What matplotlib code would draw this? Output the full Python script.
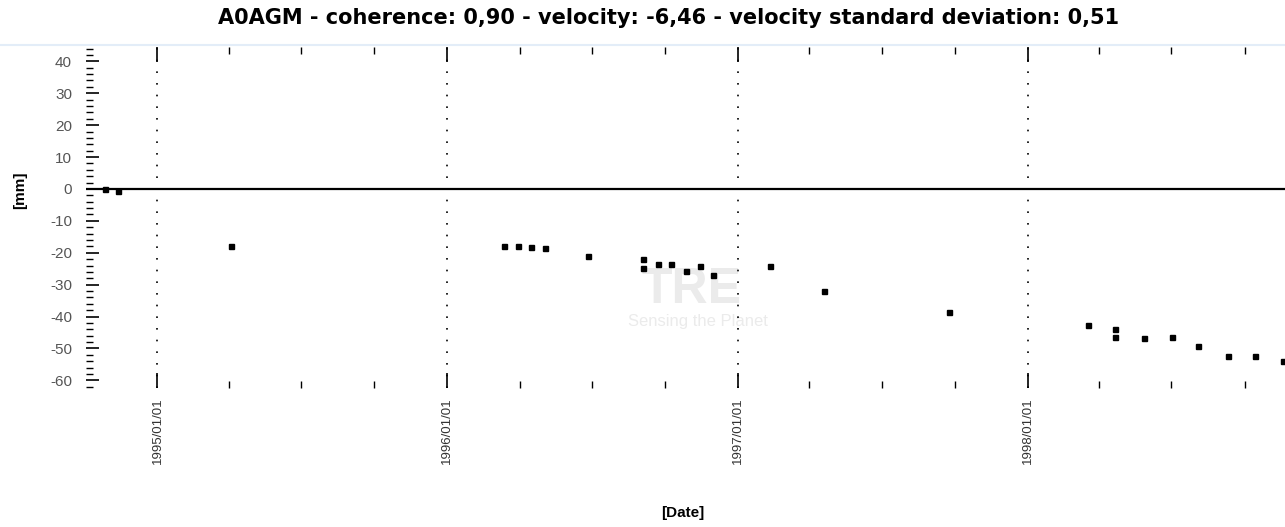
import matplotlib
matplotlib.use("Agg")
import matplotlib.pyplot as plt
import matplotlib.dates as mdates
from matplotlib.ticker import MultipleLocator
from matplotlib.lines import Line2D
import datetime as dt

plt.rcParams["axes.unicode_minus"] = False

dates = ["1994-10-27", "1994-11-12", "1995-04-03", "1996-03-12", "1996-03-30",
         "1996-04-16", "1996-05-03", "1996-06-26", "1996-09-04", "1996-09-04",
         "1996-09-22", "1996-10-09", "1996-10-28", "1996-11-14", "1996-12-01",
         "1997-02-10", "1997-04-20", "1997-09-24", "1998-03-18", "1998-04-21",
         "1998-04-21", "1998-05-27", "1998-07-02", "1998-08-04", "1998-09-10",
         "1998-10-14", "1998-11-18"]
displacement = [0.0, -0.6, -17.9, -17.9, -17.9, -18.2, -18.5, -21.0, -21.9, -24.8,
                -23.5, -23.5, -25.7, -24.1, -27.0, -24.1, -32.0, -38.6, -42.6, -43.9,
                -46.4, -46.7, -46.4, -49.2, -52.4, -52.4, -53.9]
year_ticks = ["1995-01-01", "1996-01-01", "1997-01-01", "1998-01-01"]
title = "A0AGM - coherence: 0,90 - velocity: -6,46 - velocity standard deviation: 0,51"

d = [dt.datetime.strptime(s, "%Y-%m-%d") for s in dates]
yt = [dt.datetime.strptime(s, "%Y-%m-%d") for s in year_ticks]

W, H = 1285, 527
fig = plt.figure(figsize=(W / 100, H / 100), dpi=100)
L, R, T, B = 86, 1285, 47, 388
ax = fig.add_axes([L / W, 1 - B / H, (R - L) / W, (B - T) / H])

ax.set_xlim(dt.datetime(1994, 10, 3), dt.datetime(1998, 11, 21))
ax.set_ylim(-62.4, 44.5)

for s in ax.spines.values():
    s.set_visible(False)

# faint top line
fig.add_artist(Line2D([0, 1], [1 - 45 / H, 1 - 45 / H], transform=fig.transFigure,
                      color="#e3edf8", lw=1.5, zorder=0))

# watermark
ax.text(0.505, 0.287, "TRE", transform=ax.transAxes, ha="center", va="center",
        fontsize=36, fontweight="bold", color="#ebebeb", family="Liberation Sans", zorder=0)
ax.text(0.51, 0.194, "Sensing the Planet", transform=ax.transAxes, ha="center", va="center",
        fontsize=12, color="#ebebeb", family="Liberation Sans", zorder=0)

ax.axhline(0, color="black", lw=1.6, zorder=2)
for t in yt:
    ax.axvline(t, color="black", lw=1.2, ls=(0, (1, 6)), zorder=1)

ax.plot(d, displacement, ls="none", marker="s", ms=3.6, color="black", zorder=3, clip_on=False)

ax.xaxis.set_major_locator(mdates.YearLocator())
ax.xaxis.set_minor_locator(mdates.MonthLocator(bymonth=[4, 7, 10]))
ax.xaxis.set_major_formatter(mdates.DateFormatter("%Y/%m/%d"))
ax.tick_params(axis="x", which="major", direction="in", length=11, width=1.2,
               top=True, bottom=True, labelsize=9.5, labelrotation=90, pad=7,
               labelcolor="#333333")
ax.tick_params(axis="x", which="minor", direction="in", length=5, width=1.0,
               top=True, bottom=True)
for lbl in ax.get_xticklabels():
    lbl.set_family("Liberation Sans")
    lbl.set_ha("center")

ax.yaxis.set_major_locator(MultipleLocator(10))
ax.yaxis.set_minor_locator(MultipleLocator(2))
ax.tick_params(axis="y", which="major", direction="in", length=9, width=1.2,
               labelsize=11, labelcolor="#555555", pad=10)
ax.tick_params(axis="y", which="minor", direction="in", length=5, width=1.0)
for lbl in ax.get_yticklabels():
    lbl.set_family("Liberation Sans")

fig.text(669 / W, 1 - 18 / H, title, ha="center", va="center", fontsize=15,
         fontweight="bold", family="DejaVu Sans")
fig.text(683 / W, 1 - 513 / H, "[Date]", ha="center", va="center", fontsize=11,
         fontweight="bold", family="Liberation Sans")
fig.text(20 / W, 1 - 190 / H, "[mm]", ha="center", va="center", fontsize=11,
         fontweight="bold", family="Liberation Sans", rotation=90)

fig.savefig("out.png", dpi=100, facecolor="white")
